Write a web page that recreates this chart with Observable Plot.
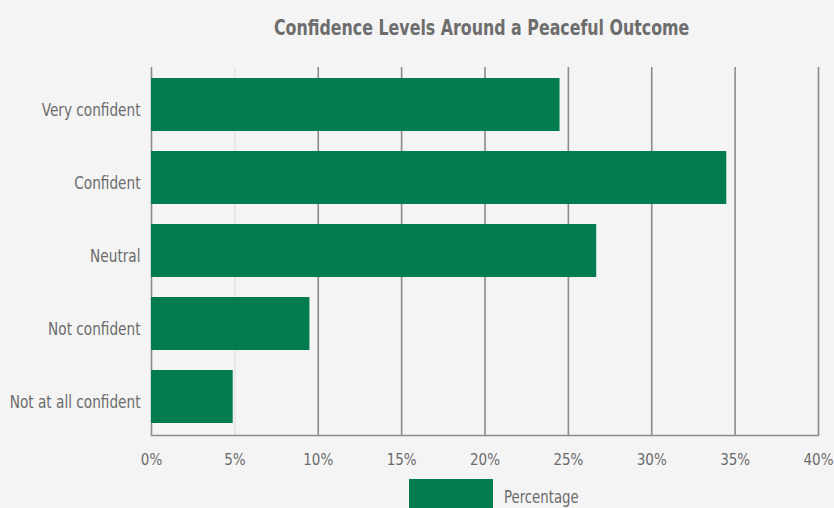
<!DOCTYPE html>
<html>
<head>
<meta charset="utf-8">
<script src="https://cdn.jsdelivr.net/npm/d3@7"></script>
<script src="https://cdn.jsdelivr.net/npm/@observablehq/plot@0.6"></script>
<style>
  html, body { margin: 0; padding: 0; background: #f4f4f4; }
  body { width: 834px; height: 508px; overflow: hidden; position: relative;
         font-family: "DejaVu Sans Condensed", "Roboto", sans-serif; color: #6b6b6b; }
  #title { position: absolute; top: 17px; left: 274px; white-space: nowrap; line-height: 1;
           font-size: 22px; font-weight: bold; color: #6d6d6d;
           transform: scaleX(0.8); transform-origin: 0 0; }
  #chart { position: absolute; top: 0; left: 0; }
  #legend { position: absolute; top: 479px; left: 409px; }
  #legend .sw { position: absolute; left: 0; top: 0; width: 84px; height: 30px; background: #007c4e; }
  #legend .lb { position: absolute; left: 95px; top: 9px; white-space: nowrap; line-height: 1;
                font-size: 18px; color: #6b6b6b; transform: scaleX(0.82); transform-origin: 0 0; }
</style>
</head>
<body>
<div id="title">Confidence Levels Around a Peaceful Outcome</div>
<div id="chart"></div>
<div id="legend"><div class="sw"></div><div class="lb">Percentage</div></div>
<script>
const categories = ["Very confident", "Confident", "Neutral", "Not confident", "Not at all confident"];
const values = [24.5, 34.5, 26.7, 9.5, 4.9];
const xTicks = [0, 5, 10, 15, 20, 25, 30, 35, 40];
const lightTicks = [5];
const seriesName = "Percentage";

const data = categories.map((c, i) => ({category: c, value: values[i]}));
const darkTicks = xTicks.filter(t => !lightTicks.includes(t));

const plot = Plot.plot({
  width: 834,
  height: 475,
  marginLeft: 151,
  marginRight: 16,
  marginTop: 67,
  marginBottom: 40,
  style: {
    background: "transparent",
    fontFamily: '"DejaVu Sans Condensed", "Roboto", sans-serif',
    fontSize: "15px",
    color: "#6b6b6b",
    overflow: "visible"
  },
  x: {domain: [0, 40], ticks: xTicks, tickFormat: d => d + "%", label: null},
  y: {domain: categories, padding: 0.27, paddingOuter: 0.14, label: null},
  marks: [
    Plot.ruleX(lightTicks, {stroke: "#dadada", strokeWidth: 1}),
    Plot.ruleX(darkTicks, {stroke: "#8a8a8a", strokeWidth: 1.6}),
    Plot.frame({anchor: "bottom", stroke: "#8a8a8a", strokeWidth: 1.6}),
    Plot.barX(data, {x: "value", y: "category", fill: "#007c4e"}),
    Plot.axisX({ticks: xTicks, tickFormat: d => d + "%", tickSize: 0, tickPadding: 19, fontSize: 15, label: null}),
    Plot.axisY({tickSize: 0, tickPadding: 11, fontSize: 18.5, dy: 5.5, label: null})
  ]
});
document.getElementById("chart").appendChild(plot);

// condense the y-axis category labels (narrow font look)
plot.querySelectorAll('g[aria-label="y-axis tick label"] text').forEach(t => {
  const w = t.getComputedTextLength();
  if (w > 0) {
    t.setAttribute("textLength", (w * 0.82).toFixed(2));
    t.setAttribute("lengthAdjust", "spacingAndGlyphs");
  }
});
</script>
</body>
</html>
